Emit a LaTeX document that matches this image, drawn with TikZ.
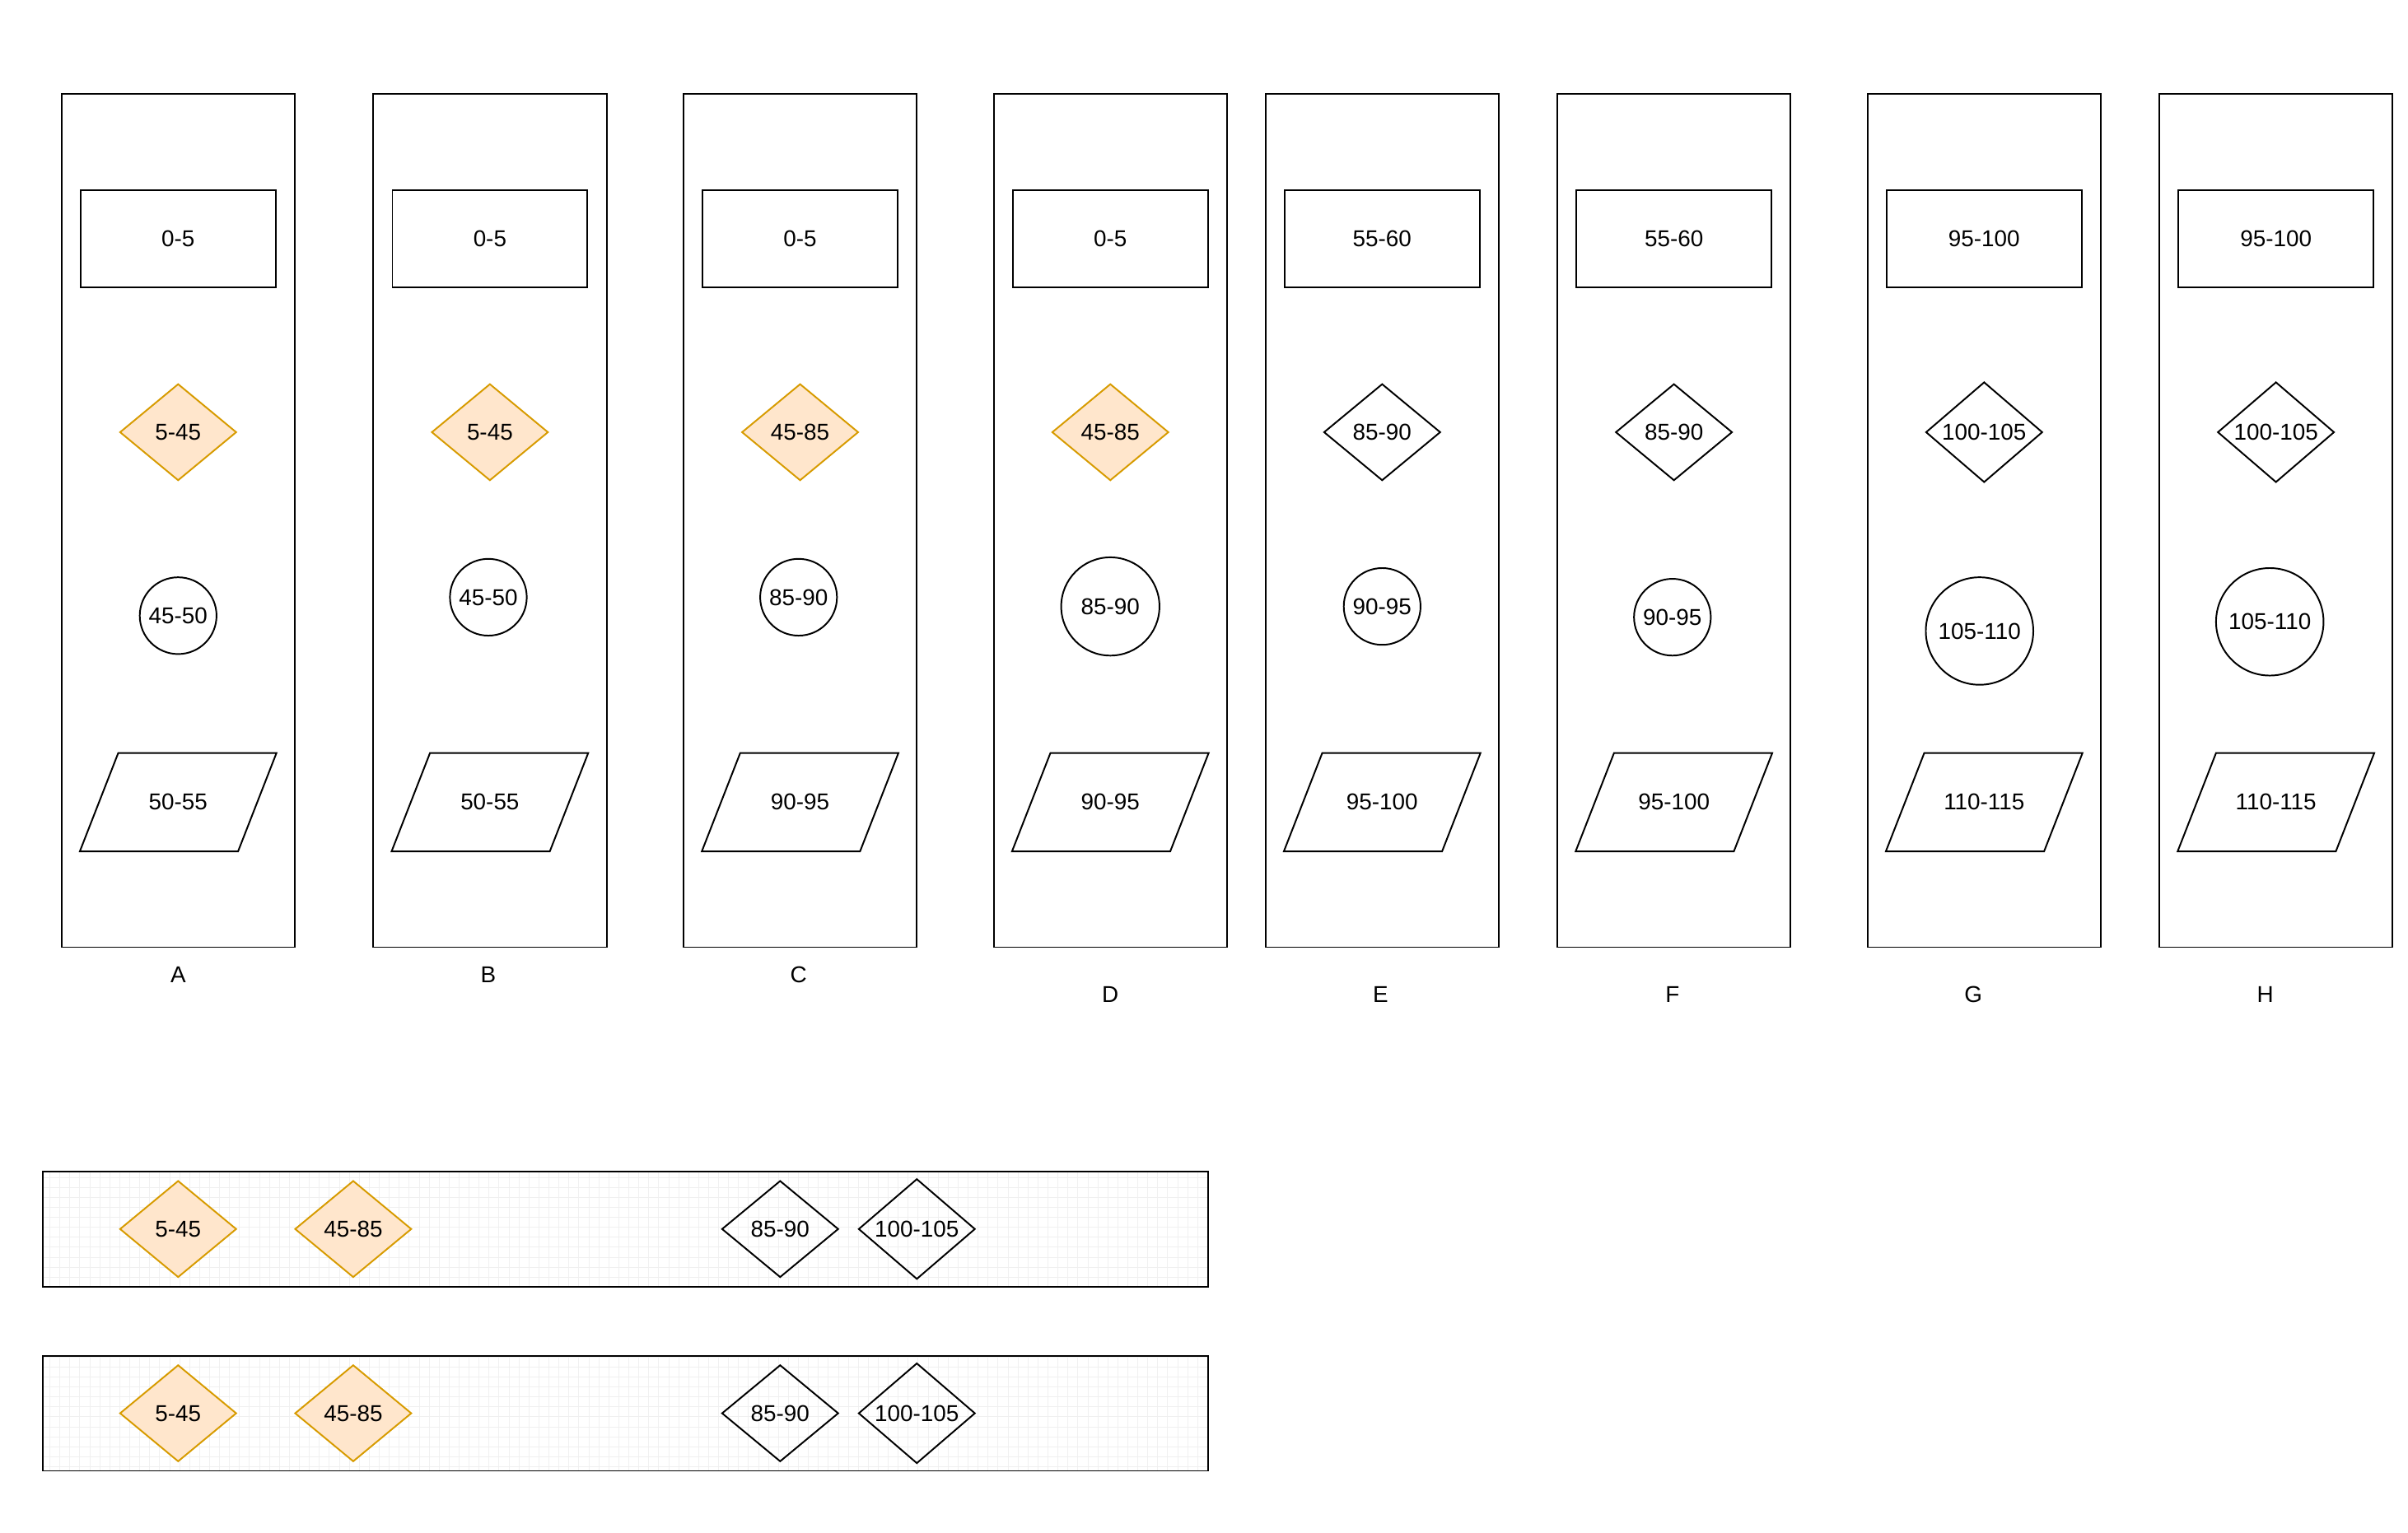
\documentclass[tikz,border=0pt]{standalone}
\usepackage{fontspec}
\setmainfont{Liberation Sans}
\usetikzlibrary{shapes.geometric}
\definecolor{hotfill}{HTML}{FFE6CC}
\definecolor{hotdraw}{HTML}{D79B00}
\begin{document}
\begin{tikzpicture}[x=0.02cm,y=-0.02cm,line width=0.6pt,
  every node/.style={font=\fontsize{8.5}{10}\selectfont,inner sep=0pt},
  colbox/.style={draw,minimum width=3.04cm,minimum height=11.12cm},
  topbox/.style={draw,minimum width=2.54cm,minimum height=1.26cm},
  plain/.style={draw,diamond,minimum width=1.52cm,minimum height=1.26cm},
  hot/.style={plain,draw=hotdraw,fill=hotfill},
  parabox/.style={minimum width=2.54cm,minimum height=1.26cm},
  bandbox/.style={draw,minimum width=15.18cm,minimum height=1.5cm},
  bandgrid/.style={draw=gray!12,line width=0.3pt,step=0.13cm}]
\useasboundingbox (0,0) rectangle (1568,998);
% columns
\foreach \n/\x/\t/\d/\s/\cx/\cy/\r/\c/\p/\lx/\ly in {
  A/116/0-5/5-45/hot/116/401/25/45-50/50-55/116/635,
  B/319/0-5/5-45/hot/318/389/25/45-50/50-55/318/635,
  C/521/0-5/45-85/hot/520/389/25/85-90/90-95/520/635,
  D/723/0-5/45-85/hot/723/395/32/85-90/90-95/723/648,
  E/900/55-60/85-90/plain/900/395/25/90-95/95-100/899/648,
  F/1090/55-60/85-90/plain/1089/402/25/90-95/95-100/1089/648,
  G/1292/95-100/100-105/plain/1289/411/35/105-110/110-115/1285/648,
  H/1482/95-100/100-105/plain/1478/405/35/105-110/110-115/1475/648}{
  \node[colbox] (box\n) at (\x,339) {};
  \node[topbox] (top\n) at (\x,155.5) {\t};
  \node[\s] (dia\n) at (\x,281.5) {\d};
  \node[draw,circle,minimum size=2*\r*0.02cm] (circ\n) at (\cx,\cy) {\c};
  \node[parabox] (para\n) at (\x,522.5) {\p};
  \draw ([xshift=0.5cm]para\n.north west)--(para\n.north east)
    --([xshift=-0.5cm]para\n.south east)--(para\n.south west)--cycle;
  \node (lab\n) at (\lx,\ly) {\n};
}
% bands
\foreach \b/\y in {1/800.5,2/920.5}{
  \path[bandgrid] (28,\y-37.5) grid (787,\y+37.5);
  \node[bandbox] (band\b) at (407.5,\y) {};
  \node[hot] (band\b-1) at (116,\y) {5-45};
  \node[hot] (band\b-2) at (230,\y) {45-85};
  \node[plain] (band\b-3) at (508,\y) {85-90};
  \node[plain] (band\b-4) at (597,\y) {100-105};
}
\end{tikzpicture}
\end{document}
